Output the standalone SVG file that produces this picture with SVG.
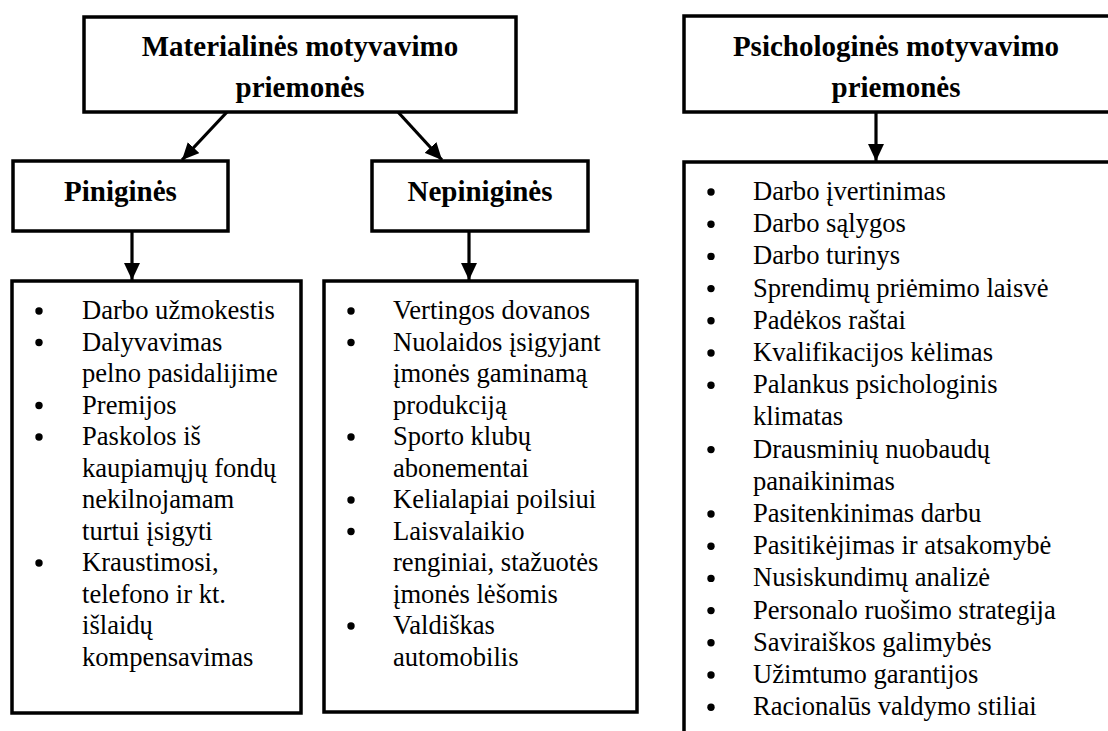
<svg xmlns="http://www.w3.org/2000/svg" width="1108" height="731" viewBox="0 0 1108 731">
<defs>
<style>
.box{fill:#fff;stroke:#000;stroke-width:3.5}
.hd{font-family:"Liberation Serif","Times New Roman",serif;font-weight:bold;fill:#000;text-anchor:middle}
.h1{font-size:29px}
.h2{font-size:29px}
.li{font-family:"Liberation Serif","Times New Roman",serif;font-size:26.6px;fill:#000}
.bul{fill:#000}
.con{stroke:#000;stroke-width:3.2;fill:none}
</style>
<marker id="ah" markerUnits="userSpaceOnUse" markerWidth="17" markerHeight="16" refX="17" refY="8" orient="auto">
<path d="M0,0 L17,8 L0,16 Z" fill="#000"/>
</marker>
</defs>
<rect width="1108" height="731" fill="#fff"/>
<g id="connectors">
<line class="con" x1="227" y1="112" x2="182" y2="160" marker-end="url(#ah)"/>
<line class="con" x1="398" y1="112" x2="442" y2="160" marker-end="url(#ah)"/>
<line class="con" x1="132" y1="231" x2="132" y2="280" marker-end="url(#ah)"/>
<line class="con" x1="469" y1="231" x2="469" y2="280" marker-end="url(#ah)"/>
<line class="con" x1="876" y1="112" x2="876" y2="161" marker-end="url(#ah)"/>
</g>
<g id="materialines">
<rect class="box" x="84" y="17" width="432" height="95"/>
<text class="hd h1" x="300" y="56">Materialinės motyvavimo</text>
<text class="hd h1" x="300" y="97">priemonės</text>
</g>
<g id="pinigines">
<rect class="box" x="13" y="161" width="215" height="70"/>
<text class="hd h2" x="120.5" y="201">Piniginės</text>
</g>
<g id="nepinigines">
<rect class="box" x="372" y="161" width="216" height="70"/>
<text class="hd h2" x="480" y="201">Nepiniginės</text>
</g>
<g id="psichologines">
<rect class="box" x="684" y="16" width="440" height="96"/>
<text class="hd h1" x="896" y="56">Psichologinės motyvavimo</text>
<text class="hd h1" x="896" y="97">priemonės</text>
</g>
<g id="pinigines-list">
<rect class="box" x="12" y="281" width="289" height="432"/>
<circle class="bul" cx="39" cy="311" r="3.7"/>
<circle class="bul" cx="39" cy="342.5" r="3.7"/>
<circle class="bul" cx="39" cy="405.5" r="3.7"/>
<circle class="bul" cx="39" cy="437" r="3.7"/>
<circle class="bul" cx="39" cy="563" r="3.7"/>
<text class="li" x="82" y="319">Darbo užmokestis</text>
<text class="li" x="82" y="350.5">Dalyvavimas</text>
<text class="li" x="82" y="382">pelno pasidalijime</text>
<text class="li" x="82" y="413.5">Premijos</text>
<text class="li" x="82" y="445">Paskolos iš</text>
<text class="li" x="82" y="476.5">kaupiamųjų fondų</text>
<text class="li" x="82" y="508">nekilnojamam</text>
<text class="li" x="82" y="539.5">turtui įsigyti</text>
<text class="li" x="82" y="571">Kraustimosi,</text>
<text class="li" x="82" y="602.5">telefono ir kt.</text>
<text class="li" x="82" y="634">išlaidų</text>
<text class="li" x="82" y="665.5">kompensavimas</text>
</g>
<g id="nepinigines-list">
<rect class="box" x="324" y="281" width="313" height="431"/>
<circle class="bul" cx="351" cy="311" r="3.7"/>
<circle class="bul" cx="351" cy="342.5" r="3.7"/>
<circle class="bul" cx="351" cy="437" r="3.7"/>
<circle class="bul" cx="351" cy="500" r="3.7"/>
<circle class="bul" cx="351" cy="531.5" r="3.7"/>
<circle class="bul" cx="351" cy="626" r="3.7"/>
<text class="li" x="393" y="319">Vertingos dovanos</text>
<text class="li" x="393" y="350.5">Nuolaidos įsigyjant</text>
<text class="li" x="393" y="382">įmonės gaminamą</text>
<text class="li" x="393" y="413.5">produkciją</text>
<text class="li" x="393" y="445">Sporto klubų</text>
<text class="li" x="393" y="476.5">abonementai</text>
<text class="li" x="393" y="508">Kelialapiai poilsiui</text>
<text class="li" x="393" y="539.5">Laisvalaikio</text>
<text class="li" x="393" y="571">renginiai, stažuotės</text>
<text class="li" x="393" y="602.5">įmonės lėšomis</text>
<text class="li" x="393" y="634">Valdiškas</text>
<text class="li" x="393" y="665.5">automobilis</text>
</g>
<g id="psichologines-list">
<rect class="box" x="684" y="162" width="440" height="600"/>
<circle class="bul" cx="711" cy="192" r="3.7"/>
<circle class="bul" cx="711" cy="224.2" r="3.7"/>
<circle class="bul" cx="711" cy="256.4" r="3.7"/>
<circle class="bul" cx="711" cy="288.6" r="3.7"/>
<circle class="bul" cx="711" cy="320.8" r="3.7"/>
<circle class="bul" cx="711" cy="353" r="3.7"/>
<circle class="bul" cx="711" cy="385.2" r="3.7"/>
<circle class="bul" cx="711" cy="449.6" r="3.7"/>
<circle class="bul" cx="711" cy="514" r="3.7"/>
<circle class="bul" cx="711" cy="546.2" r="3.7"/>
<circle class="bul" cx="711" cy="578.4" r="3.7"/>
<circle class="bul" cx="711" cy="610.6" r="3.7"/>
<circle class="bul" cx="711" cy="642.8" r="3.7"/>
<circle class="bul" cx="711" cy="675" r="3.7"/>
<circle class="bul" cx="711" cy="707.2" r="3.7"/>
<text class="li" x="753" y="200">Darbo įvertinimas</text>
<text class="li" x="753" y="232.2">Darbo sąlygos</text>
<text class="li" x="753" y="264.4">Darbo turinys</text>
<text class="li" x="753" y="296.6">Sprendimų priėmimo laisvė</text>
<text class="li" x="753" y="328.8">Padėkos raštai</text>
<text class="li" x="753" y="361">Kvalifikacijos kėlimas</text>
<text class="li" x="753" y="393.2">Palankus psichologinis</text>
<text class="li" x="753" y="425.4">klimatas</text>
<text class="li" x="753" y="457.6">Drausminių nuobaudų</text>
<text class="li" x="753" y="489.8">panaikinimas</text>
<text class="li" x="753" y="522">Pasitenkinimas darbu</text>
<text class="li" x="753" y="554.2">Pasitikėjimas ir atsakomybė</text>
<text class="li" x="753" y="586.4">Nusiskundimų analizė</text>
<text class="li" x="753" y="618.6">Personalo ruošimo strategija</text>
<text class="li" x="753" y="650.8">Saviraiškos galimybės</text>
<text class="li" x="753" y="683">Užimtumo garantijos</text>
<text class="li" x="753" y="715.2">Racionalūs valdymo stiliai</text>
</g>
</svg>
